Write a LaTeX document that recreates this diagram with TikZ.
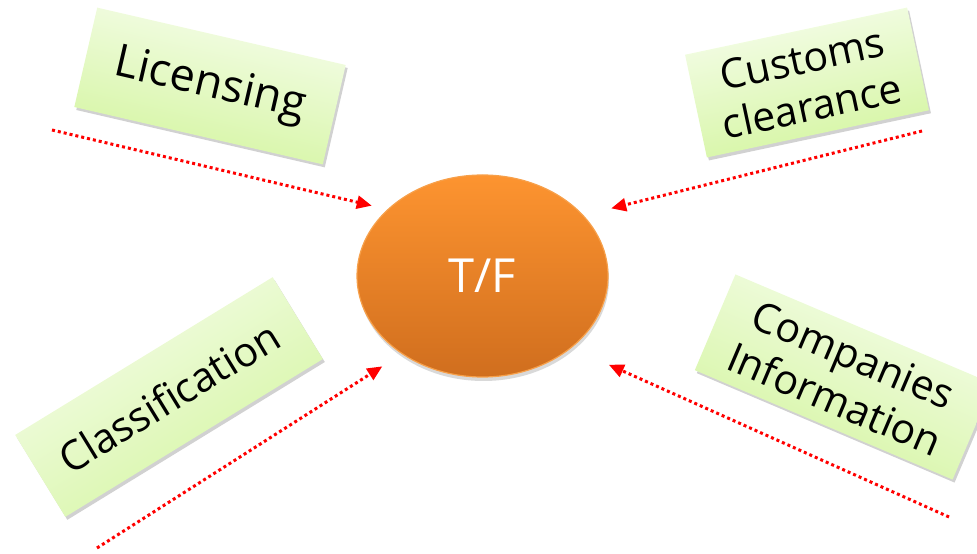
\documentclass[tikz,border=0pt]{standalone}
\usepackage{fontspec}
\setmainfont{Open Sans}
\usetikzlibrary{shapes.geometric,arrows.meta,shadows}
\definecolor{boxtop}{HTML}{F6FDEC}
\definecolor{boxbot}{HTML}{D3F59E}
\definecolor{ortop}{HTML}{FD9430}
\definecolor{orbot}{HTML}{D06E1E}
\definecolor{orline}{HTML}{F7A04A}
\definecolor{arrred}{HTML}{FF0000}
\tikzset{
 topic/.style={rectangle, inner sep=0pt, top color=boxtop, bottom color=boxbot, draw=none, align=center,
   font=\fontsize{41}{48}\selectfont,
   drop shadow={shadow xshift=2pt,shadow yshift=-3pt,opacity=0.18,fill=black}},
 hub/.style={ellipse, inner sep=0pt, minimum width=251pt, minimum height=202pt, top color=ortop,
   bottom color=orbot, draw=orline, line width=1.2pt, text=white, font=\fontsize{47}{50}\selectfont,
   drop shadow={shadow xshift=1pt,shadow yshift=-4pt,opacity=0.15,fill=black}},
 feed/.style={draw=arrred, line width=3pt, dash pattern=on 3pt off 3pt, -{Triangle[length=15pt,width=13pt]}},
}
\begin{document}
\begin{tikzpicture}[x=1pt,y=1pt]
\useasboundingbox (0,0) rectangle (977,554);
\clip (0,0) rectangle (977,554);
\node[hub] (tf) at (482.5,278) {T/F};
\node[topic, minimum width=255pt, minimum height=102pt, rotate=-13, shading angle=-13, font=\fontsize{45}{50}\selectfont] (lic) at (210,468) {Licensing};
\node[topic, minimum width=227pt, minimum height=105pt, rotate=12, shading angle=12] (cus) at (807,471.5) {Customs\\clearance};
\node[topic, minimum width=302pt, minimum height=96pt, rotate=31.5, shading angle=31.5] (cla) at (169,157) {Classification};
\node[topic, minimum width=280pt, minimum height=104pt, rotate=-23, shading angle=-23] (com) at (844,177) {Companies\\Information};
\coordinate (licS) at (52,424);
\coordinate (cusS) at (922,423);
\coordinate (claS) at (97,6);
\coordinate (comS) at (949,37);
\draw[feed, shorten >=16pt] (licS) -- (tf.145.8);
\draw[feed, shorten >=28.5pt] (cusS) -- (tf.31.5);
\draw[feed, shorten >=23pt] (claS) -- (tf.224.1);
\draw[feed, shorten >=41pt] (comS) -- (tf.321.4);
\end{tikzpicture}
\end{document}
